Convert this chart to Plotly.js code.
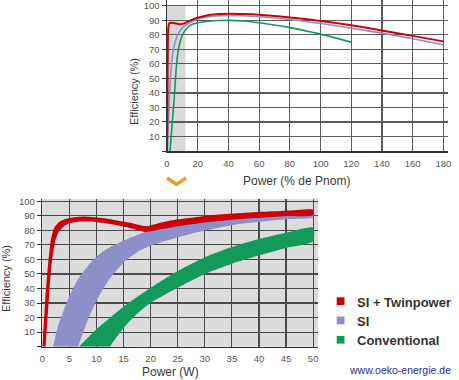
<!DOCTYPE html>
<html><head><meta charset="utf-8">
<script src="https://cdn.plot.ly/plotly-3.0.1.min.js"></script>
<style>html,body{margin:0;padding:0;background:#fff;} #chart{width:459px;height:380px;}</style>
</head><body><div id="chart"></div>
<script>
// ---------- Top chart: efficiency vs power (% of Pnom) ----------
const topTwinX = [0, 0.4, 0.8, 1.5, 3, 6, 9, 12, 15, 20, 25, 30, 40, 50, 60, 80, 100, 120, 140, 160, 180];
const topTwinY = [0, 50, 84, 88, 88.3, 87.8, 87.3, 88.2, 89.8, 91.8, 93.2, 94, 94.6, 94.4, 93.9, 92, 89.6, 86.6, 83, 79.3, 75.5];
const topSIX = [0.2, 1.5, 2.8, 4.1, 5.7, 7.4, 10.6, 16, 21.5, 30, 40, 60, 80, 100, 120, 140, 160, 180];
const topSIY = [0, 35, 58, 69.5, 76.4, 81, 85.5, 89, 91.3, 92.8, 93.3, 92.5, 90.6, 87.8, 84.6, 81.2, 77.3, 73.2];
const topConvX = [1.95, 3, 4.6, 6.1, 7.4, 9, 10.6, 13, 15, 20, 30, 40, 50, 60, 80, 100, 120];
const topConvY = [0, 14, 35, 58, 69.5, 77, 81, 84.5, 86.5, 88.3, 89.7, 90, 89.5, 88.3, 85, 80.5, 75];
const topXTicks = [0, 20, 40, 60, 80, 100, 120, 140, 160, 180];
const topShadeX = [0, 12];

// ---------- Bottom chart: efficiency vs power (W), bands ----------
const twinUpX = [0, 0.6, 1.1, 1.6, 2.2, 3, 4, 5.5, 7.5, 10, 13, 16, 19.2, 22, 25, 30, 35, 40, 45, 50];
const twinUpY = [0, 35, 58, 74, 81.8, 85.4, 87.4, 88.8, 89.5, 88.9, 87.3, 85.3, 82.8, 85.3, 87.5, 89.9, 91.5, 92.6, 93.4, 94.1];
const twinLoX = [0.6, 1.25, 1.75, 2.35, 3.0, 3.9, 5, 7, 9, 12, 16, 19.2, 22, 25, 30, 35, 40, 45, 50];
const twinLoY = [0, 35, 58, 72, 78.8, 82.5, 84.8, 86, 86, 84.6, 81.8, 78.8, 80.8, 82.8, 85.4, 87.3, 88.6, 89.7, 90.4];
const siUpX = [2.0, 2.8, 3.9, 5.1, 6.7, 9.1, 11.2, 13.4, 16.1, 20, 25, 30, 35, 40, 45, 50];
const siUpY = [0, 12.8, 24.3, 35.7, 47, 58.6, 65.4, 70, 74.6, 80, 83.5, 86, 88, 89.3, 90.3, 91];
const siLoX = [6.6, 7.85, 9.1, 10.6, 12.5, 15.2, 17.7, 20.1, 24.4, 30, 35, 40, 45, 50];
const siLoY = [0, 12.8, 24.3, 35.7, 47, 58.6, 65.4, 69.5, 74.5, 79.8, 83.5, 85.8, 87.6, 88.8];
const convUpX = [6.75, 10, 15, 20, 25, 30, 35, 40, 45, 50];
const convUpY = [0, 12, 27.5, 40.5, 52, 61.5, 68.5, 74, 78.3, 81.8];
const convLoX = [12.45, 15, 18, 20.4, 25, 30, 35, 40, 45, 50];
const convLoY = [0, 12.8, 24.3, 31, 40.5, 50, 57, 62.8, 67.9, 72.5];
const botXTicks = [0, 5, 10, 15, 20, 25, 30, 35, 40, 45, 50];

const yTicks = [0, 10, 20, 30, 40, 50, 60, 70, 80, 90, 100];
const yTickText = ['', '10', '20', '30', '40', '50', '60', '70', '80', '90', '100'];

const seriesNames = ['SI + Twinpower', 'SI', 'Conventional'];
const colors = {twin: '#cc0008', si: '#8e8ec8', conv: '#139a5b'};
const siteText = 'www.oeko-energie.de';

function band(upX, upY, loX, loY) {
  return {x: upX.concat(loX.slice().reverse()), y: upY.concat(loY.slice().reverse())};
}
const twinBand = band(twinUpX, twinUpY, twinLoX, twinLoY);
const siBand = band(siUpX, siUpY, siLoX, siLoY);
const convBand = band(convUpX, convUpY, convLoX, convLoY);

const traces = [
  {type: 'scatter', mode: 'lines', name: seriesNames[2], x: topConvX, y: topConvY, xaxis: 'x', yaxis: 'y',
   line: {color: colors.conv, width: 1.6, shape: 'spline', smoothing: 0.6}},
  {type: 'scatter', mode: 'lines', name: seriesNames[1], x: topSIX, y: topSIY, xaxis: 'x', yaxis: 'y',
   line: {color: colors.si, width: 1.6, shape: 'spline', smoothing: 0.6}},
  {type: 'scatter', mode: 'lines', name: seriesNames[0], x: topTwinX, y: topTwinY, xaxis: 'x', yaxis: 'y',
   line: {color: colors.twin, width: 2, shape: 'spline', smoothing: 0.6}},
  {type: 'scatter', mode: 'lines', name: seriesNames[1], x: siBand.x, y: siBand.y, xaxis: 'x2', yaxis: 'y2',
   fill: 'toself', fillcolor: colors.si, line: {width: 0, color: colors.si, shape: 'spline', smoothing: 0.6}},
  {type: 'scatter', mode: 'lines', name: seriesNames[2], x: convBand.x, y: convBand.y, xaxis: 'x2', yaxis: 'y2',
   fill: 'toself', fillcolor: colors.conv, line: {width: 0, color: colors.conv, shape: 'spline', smoothing: 0.6}},
  {type: 'scatter', mode: 'lines', name: seriesNames[0], x: twinBand.x, y: twinBand.y, xaxis: 'x2', yaxis: 'y2',
   fill: 'toself', fillcolor: colors.twin, line: {width: 0, color: colors.twin, shape: 'spline', smoothing: 0.5}}
];

const W = 459, H = 380;
const px = v => v / W;
const py = v => 1 - v / H;
const gridC = '#5c5c5c';
const tickFont = {family: 'Liberation Sans, Arial, sans-serif', size: 9.5, color: '#555'};
const titleFont = {family: 'Liberation Sans, Arial, sans-serif', size: 12, color: '#3a3a3a'};

function axisCommon() {
  return {showgrid: true, gridcolor: gridC, gridwidth: 1.2, zeroline: false, showline: true,
          linecolor: '#333', linewidth: 1.5, tickfont: tickFont, fixedrange: true};
}

const layout = {
  width: W, height: H,
  margin: {l: 0, r: 0, t: 0, b: 0},
  paper_bgcolor: '#fff', plot_bgcolor: 'rgba(0,0,0,0)',
  showlegend: false,
  font: {family: 'Liberation Sans, Arial, sans-serif'},
  xaxis: Object.assign(axisCommon(), {domain: [px(167), px(448)], range: [0, 183], anchor: 'y',
    tickmode: 'array', tickvals: topXTicks, ticks: '', ticklabelstandoff: 3}),
  yaxis: Object.assign(axisCommon(), {domain: [py(151), 1], range: [0, 104], anchor: 'x',
    tickmode: 'array', tickvals: yTicks, ticktext: yTickText, ticks: 'outside', ticklen: 4, tickcolor: '#333'}),
  xaxis2: Object.assign(axisCommon(), {domain: [px(42.3), px(318)], range: [0, 50.9], anchor: 'y2',
    tickmode: 'array', tickvals: botXTicks, ticks: '', ticklabelstandoff: 2, gridcolor: '#4a4a4a'}),
  yaxis2: Object.assign(axisCommon(), {domain: [py(346.7), py(199)], range: [0, 101.5], anchor: 'x2',
    tickmode: 'array', tickvals: yTicks, ticktext: yTickText, ticks: 'outside', ticklen: 4, tickcolor: '#333', gridcolor: '#4a4a4a'}),
  shapes: [
    {type: 'rect', layer: 'below', xref: 'x', yref: 'y', x0: topShadeX[0], x1: topShadeX[1], y0: 0, y1: 100,
     fillcolor: '#d9d9d9', line: {width: 0}},
    {type: 'rect', layer: 'below', xref: 'x2 domain', yref: 'y2 domain', x0: 0, x1: 1, y0: 0, y1: 1,
     fillcolor: '#dcdcdc', line: {width: 0}},
    {type: 'path', xref: 'paper', yref: 'paper',
     path: 'M ' + px(167) + ' ' + py(178) + ' L ' + px(176.5) + ' ' + py(184.5) + ' L ' + px(186) + ' ' + py(178),
     line: {color: '#e8a030', width: 3.5}},
    {type: 'rect', xref: 'paper', yref: 'paper', x0: px(336.7), x1: px(344.5), y0: py(305), y1: py(297.3), fillcolor: colors.twin, line: {width: 0}},
    {type: 'rect', xref: 'paper', yref: 'paper', x0: px(336.7), x1: px(344.5), y0: py(324.3), y1: py(316.6), fillcolor: colors.si, line: {width: 0}},
    {type: 'rect', xref: 'paper', yref: 'paper', x0: px(336.7), x1: px(344.5), y0: py(343.6), y1: py(335.9), fillcolor: colors.conv, line: {width: 0}}
  ],
  annotations: [
    {text: 'Power (% de Pnom)', xref: 'paper', yref: 'paper', x: px(296.7), y: py(181), showarrow: false,
     xanchor: 'center', yanchor: 'middle', font: titleFont},
    {text: 'Efficiency (%)', xref: 'paper', yref: 'paper', x: px(133.3), y: py(91.7), showarrow: false, textangle: -90,
     xanchor: 'center', yanchor: 'middle', font: Object.assign({}, titleFont, {size: 11})},
    {text: 'Power (W)', xref: 'paper', yref: 'paper', x: px(170), y: py(372.2), showarrow: false,
     xanchor: 'center', yanchor: 'middle', font: titleFont},
    {text: 'Efficiency (%)', xref: 'paper', yref: 'paper', x: px(6.7), y: py(278.3), showarrow: false, textangle: -90,
     xanchor: 'center', yanchor: 'middle', font: Object.assign({}, titleFont, {size: 11})},
    {text: '<b>' + seriesNames[0] + '</b>', xref: 'paper', yref: 'paper', x: px(355), y: py(302), showarrow: false,
     xanchor: 'left', yanchor: 'middle', font: {family: 'Liberation Sans, Arial, sans-serif', size: 13, color: '#333'}},
    {text: '<b>' + seriesNames[1] + '</b>', xref: 'paper', yref: 'paper', x: px(355), y: py(321.3), showarrow: false,
     xanchor: 'left', yanchor: 'middle', font: {family: 'Liberation Sans, Arial, sans-serif', size: 13, color: '#333'}},
    {text: '<b>' + seriesNames[2] + '</b>', xref: 'paper', yref: 'paper', x: px(355), y: py(340.8), showarrow: false,
     xanchor: 'left', yanchor: 'middle', font: {family: 'Liberation Sans, Arial, sans-serif', size: 13, color: '#333'}},
    {text: siteText, xref: 'paper', yref: 'paper', x: px(347), y: py(370), showarrow: false,
     xanchor: 'left', yanchor: 'middle', font: {family: 'Liberation Sans, Arial, sans-serif', size: 10.5, color: '#2a2aa8'}}
  ]
};

Plotly.newPlot('chart', traces, layout, {staticPlot: true, displayModeBar: false});
</script>
</body></html>
